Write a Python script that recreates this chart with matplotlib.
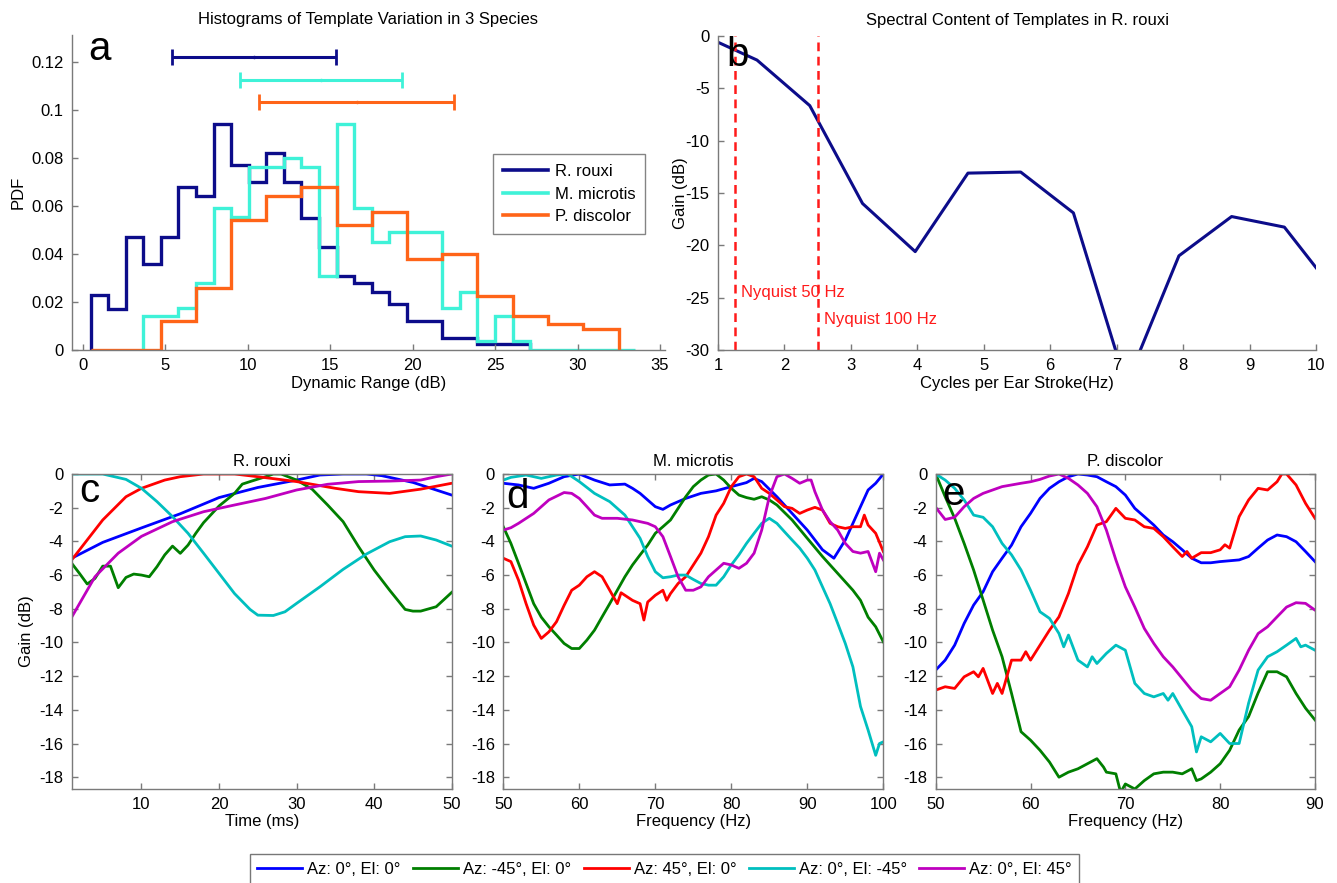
import matplotlib
matplotlib.use("Agg")
import matplotlib.pyplot as plt
from matplotlib.lines import Line2D

plt.rcParams['font.family'] = ['Liberation Sans', 'DejaVu Sans']
plt.rcParams['font.size'] = 12
plt.rcParams['axes.unicode_minus'] = False

# ---------------- Panel a: histograms ----------------
species = ["R. rouxi", "M. microtis", "P. discolor"]
hist_colors = ["#0c0c8a", "#3ff2d8", "#ff6418"]

rouxi_edges = [0.46, 1.53, 2.59, 3.66, 4.73, 5.79, 6.86, 7.92, 8.99, 10.06, 11.12, 12.19,
               13.25, 14.32, 15.39, 16.45, 17.52, 18.58, 19.65, 20.72, 21.78, 22.85,
               23.91, 24.98, 26.05, 27.11]
rouxi_pdf = [0.023, 0.017, 0.047, 0.036, 0.047, 0.068, 0.064, 0.094, 0.077, 0.070, 0.082,
             0.070, 0.055, 0.043, 0.031, 0.028, 0.024, 0.019, 0.012, 0.012, 0.005, 0.005,
             0.0025, 0.0025, 0.0025]

microtis_edges = [3.66, 4.73, 5.79, 6.86, 7.92, 8.99, 10.06, 11.12, 12.19, 13.25, 14.32,
                  15.39, 16.45, 17.52, 18.58, 19.65, 20.72, 21.78, 22.85, 23.91, 24.98,
                  26.05, 27.11, 28.18, 29.24, 30.31, 31.38, 32.44, 33.51]
microtis_pdf = [0.014, 0.014, 0.0174, 0.028, 0.059, 0.0556, 0.0764, 0.0764, 0.080, 0.0764,
                0.031, 0.094, 0.059, 0.045, 0.049, 0.049, 0.049, 0.0174, 0.0243, 0.0037,
                0.014, 0.0037, 0.0, 0.0, 0.0, 0.0, 0.0, 0.0]

discolor_edges = [0.46, 2.59, 4.73, 6.86, 8.99, 11.12, 13.25, 15.39, 17.52, 19.65, 21.78,
                  23.91, 26.05, 28.18, 30.31, 32.5]
discolor_pdf = [0.0, 0.0, 0.012, 0.026, 0.054, 0.064, 0.068, 0.052, 0.0576, 0.038, 0.040,
                0.0226, 0.0143, 0.0108, 0.0087]

err_mean = [10.37, 14.43, 16.6]
err_sd = [4.97, 4.92, 5.9]
err_y = [0.122, 0.1125, 0.1034]

# ---------------- Panel b: spectral content ----------------
spec_x = [0.794, 1.587, 2.381, 3.175, 3.968, 4.762, 5.556, 6.349, 7.143, 7.937, 8.730,
          9.524, 10.317]
spec_gain = [0.0, -2.3, -6.65, -16.0, -20.6, -13.1, -13.0, -16.9, -33.3, -21.0, -17.25,
             -18.26, -24.7]
nyquist_x = [1.25, 2.5]
nyquist_labels = ["Nyquist 50 Hz", "Nyquist 100 Hz"]
nyquist_label_y = [-24.5, -27.1]

# ---------------- Panels c-e ----------------
dir_labels = ["Az: 0°, El: 0°", "Az: -45°, El: 0°", "Az: 45°, El: 0°",
              "Az: 0°, El: -45°", "Az: 0°, El: 45°"]
dir_colors = ["#0000ff", "#007f00", "#ff0000", "#00bfbf", "#bf00bf"]

# panel c (R. rouxi, time)
c_blue_x = [1, 5, 10, 15, 20, 25, 30, 33, 36, 39, 41, 45, 50]
c_blue_y = [-5.0, -4.06, -3.2, -2.36, -1.4, -0.8, -0.36, -0.06, 0.0, 0.0, -0.1, -0.5, -1.25]
c_green_x = [1, 2, 3, 4, 5, 6, 7, 8, 9, 10, 11, 12, 13, 14, 15, 16, 17, 18, 20, 22, 23, 24,
             26, 27, 28, 30, 32, 34, 36, 38, 40, 42, 44, 45, 46, 48, 50]
c_green_y = [-5.3, -5.9, -6.53, -6.2, -5.47, -5.47, -6.75, -6.14, -5.94, -6.0, -6.1, -5.5,
             -4.8, -4.28, -4.71, -4.22, -3.52, -2.89, -1.9, -1.15, -0.6, -0.45, -0.16, 0.0,
             0.0, -0.36, -0.9, -1.84, -2.83, -4.32, -5.7, -6.9, -8.04, -8.14, -8.14, -7.88,
             -7.03]
c_red_x = [1, 5, 8, 10, 13, 15, 18, 22, 25, 30, 35, 38, 42, 46, 50]
c_red_y = [-5.1, -2.73, -1.35, -0.85, -0.36, -0.16, 0.0, 0.0, -0.16, -0.45, -0.85, -1.05,
           -1.15, -0.9, -0.55]
c_cyan_x = [1, 5, 8, 10, 12, 14, 16, 18, 20, 22, 24, 25, 27, 28.5, 30, 33, 36, 39, 42, 44,
            46, 48, 50]
c_cyan_y = [0.0, 0.0, -0.32, -0.85, -1.64, -2.53, -3.52, -4.7, -5.9, -7.1, -8.04, -8.38,
            -8.4, -8.18, -7.68, -6.7, -5.66, -4.75, -4.02, -3.72, -3.68, -3.92, -4.28]
c_mag_x = [1, 4, 7, 10, 14, 18, 22, 26, 30, 34, 38, 42, 46, 48, 50]
c_mag_y = [-8.5, -6.1, -4.7, -3.7, -2.83, -2.24, -1.84, -1.45, -0.95, -0.61, -0.45, -0.42,
           -0.36, -0.16, 0.0]

# panel d (M. microtis, frequency)
d_blue_x = [50, 52, 54, 56, 58, 60, 62, 64, 66, 67, 68, 70, 71, 72, 74, 76, 78, 80, 82, 83,
            84, 86, 88, 90, 92, 93.5, 95, 97, 98, 99, 100]
d_blue_y = [-0.55, -0.65, -0.85, -0.55, -0.16, 0.0, -0.36, -0.65, -0.6, -0.85, -1.15, -1.94,
            -2.1, -1.84, -1.45, -1.15, -1.0, -0.75, -0.51, -0.26, -0.45, -1.35, -2.34, -3.33,
            -4.5, -5.0, -3.92, -1.94, -0.95, -0.55, 0.0]
d_green_x = [50, 51, 52, 53, 54, 55, 56, 57, 58, 59, 60, 61, 62, 63, 64, 65, 66, 67, 68, 69,
             70, 71, 72, 73, 74, 75, 76, 77, 78, 79, 80, 81, 82, 83, 84, 85, 86, 88, 90, 92,
             94, 96, 97, 98, 99, 100]
d_green_y = [-3.13, -4.12, -5.3, -6.5, -7.7, -8.5, -9.07, -9.56, -10.06, -10.36, -10.36,
             -9.86, -9.27, -8.48, -7.7, -6.9, -6.1, -5.4, -4.8, -4.22, -3.52, -3.13, -2.73,
             -2.04, -1.35, -0.75, -0.36, -0.06, 0.0, -0.36, -0.85, -1.25, -1.4, -1.5, -1.35,
             -1.54, -1.84, -2.73, -3.82, -4.9, -5.9, -6.9, -7.5, -8.5, -9.07, -9.96]
d_red_x = [50, 51, 52, 53, 54, 55, 56, 57, 58, 59, 60, 61, 62, 63, 64, 65, 65.5, 66, 67, 68,
           68.5, 69, 70, 71, 71.5, 72, 73, 74, 75, 76, 77, 78, 79, 80, 81, 82, 83, 84, 85,
           86, 87, 88, 89, 90, 91, 92, 93, 94, 95, 96, 97, 97.5, 98, 99, 100]
d_red_y = [-5.0, -5.2, -6.3, -7.7, -8.97, -9.76, -9.37, -8.77, -7.8, -6.9, -6.6, -6.1, -5.8,
           -6.1, -6.9, -7.7, -7.05, -7.2, -7.5, -7.7, -8.67, -7.6, -7.2, -6.9, -7.5, -7.1,
           -6.5, -6.1, -5.4, -4.7, -3.72, -2.44, -1.74, -0.75, -0.16, 0.0, -0.16, -0.85,
           -1.15, -1.54, -1.94, -2.04, -2.34, -2.14, -1.98, -2.14, -2.93, -3.13, -3.23,
           -3.13, -3.13, -2.44, -3.03, -3.52, -4.6]
d_cyan_x = [50, 51, 53, 55, 57, 58.5, 60, 62, 64, 66, 68, 69, 70, 71, 72, 73, 74, 75, 76, 77,
            78, 79, 80, 81, 82, 83, 84, 85, 86, 87, 88, 89, 90, 91, 92, 93, 94, 95, 96, 97,
            98, 99, 99.5, 100]
d_cyan_y = [-0.36, -0.2, -0.06, -0.26, -0.06, 0.0, -0.45, -1.15, -1.64, -2.44, -3.82, -4.9,
            -5.8, -6.16, -6.1, -6.0, -6.0, -6.26, -6.5, -6.6, -6.6, -6.1, -5.4, -4.8, -4.12,
            -3.52, -2.93, -2.63, -2.93, -3.43, -3.92, -4.4, -5.0, -5.7, -6.7, -7.7, -8.87,
            -10.06, -11.45, -13.8, -15.2, -16.7, -16.0, -15.9]
d_mag_x = [50, 51, 52, 54, 56, 58, 59, 60, 61, 62, 63, 65, 67, 69, 70, 71, 72, 73, 74, 75,
           76, 77, 78, 79, 80, 81, 82, 83, 84, 85, 86, 87, 88, 89, 90, 90.5, 91, 92, 93, 94,
           95, 96, 97, 98, 99, 99.5, 100]
d_mag_y = [-3.33, -3.19, -2.93, -2.34, -1.54, -1.1, -1.15, -1.45, -1.94, -2.44, -2.63, -2.63,
           -2.73, -2.93, -3.13, -3.72, -4.9, -6.1, -6.9, -6.9, -6.7, -6.1, -5.7, -5.3, -5.4,
           -5.6, -5.3, -4.7, -3.33, -1.35, -0.16, 0.0, -0.26, -0.55, -0.36, -0.36, -1.05,
           -2.14, -2.83, -3.33, -4.12, -4.6, -4.7, -4.6, -5.8, -4.7, -5.1]

# panel e (P. discolor, frequency)
e_x = [50, 51, 52, 53, 54, 55, 56, 57, 58, 59, 60, 61, 62, 63, 64, 65, 66, 67, 68, 69, 70,
       71, 72, 73, 74, 75, 76, 77, 78, 79, 80, 81, 82, 83, 84, 85, 86, 87, 88, 89, 90]
e_blue_y = [-11.64, -11.05, -10.16, -8.87, -7.78, -6.99, -5.8, -5.0, -4.22, -3.13, -2.34,
            -1.45, -0.85, -0.46, -0.16, 0.0, -0.06, -0.16, -0.46, -0.75, -1.25, -2.04, -2.53,
            -3.03, -3.62, -4.02, -4.5, -5.0, -5.27, -5.27, -5.2, -5.15, -5.1, -4.9, -4.4,
            -3.92, -3.62, -3.72, -4.02, -4.6, -5.2]
e_mag_y = [-1.98, -2.7, -2.57, -1.94, -1.45, -1.15, -0.95, -0.75, -0.65, -0.55, -0.46, -0.32,
           -0.12, 0.0, -0.26, -0.65, -1.15, -1.94, -3.33, -5.1, -6.7, -7.9, -9.17, -10.06,
           -10.85, -11.45, -12.14, -12.83, -13.33, -13.43, -13.03, -12.63, -11.64, -10.46,
           -9.47, -9.07, -8.48, -7.9, -7.64, -7.68, -8.08]
e_green_x = [50, 51, 52, 53, 54, 55, 56, 57, 58, 59, 60, 61, 62, 63, 64, 65, 66, 67, 67.7,
             68, 69, 69.5, 70, 71, 72, 73, 74, 75, 76, 77, 77.5, 78, 79, 80, 81, 82, 83, 84,
             85, 86, 87, 88, 89, 90]
e_green_y = [0.0, -1.35, -2.63, -4.12, -5.7, -7.48, -9.27, -10.85, -13.03, -15.3, -15.8,
             -16.4, -17.1, -18.0, -17.7, -17.5, -17.2, -16.9, -17.4, -17.7, -17.8, -18.9,
             -18.4, -18.7, -18.2, -17.8, -17.7, -17.7, -17.8, -17.5, -18.2, -18.1, -17.7,
             -17.2, -16.4, -15.2, -14.4, -13.0, -11.74, -11.74, -12.04, -13.03, -13.9, -14.6]
e_red_x = [50, 51, 52, 53, 54, 54.5, 55, 56, 56.5, 57, 58, 59, 59.5, 60, 61, 62, 63, 64, 65,
           66, 67, 68, 69, 70, 71, 72, 73, 74, 75, 76, 76.5, 77, 78, 79, 80, 80.5, 81, 82,
           83, 84, 85, 86, 86.5, 87, 88, 89, 90]
e_red_y = [-12.83, -12.63, -12.73, -12.04, -11.74, -12.04, -11.54, -13.03, -12.43, -13.03,
           -11.05, -11.05, -10.55, -11.05, -10.16, -9.27, -8.48, -7.09, -5.4, -4.32, -3.03,
           -2.83, -2.04, -2.63, -2.73, -3.13, -3.23, -3.72, -4.32, -4.9, -4.6, -5.0, -4.67,
           -4.67, -4.5, -4.2, -4.4, -2.53, -1.54, -0.85, -0.95, -0.46, 0.0, 0.0, -0.65,
           -1.74, -2.63]
e_cyan_x = [50, 51, 52, 53, 54, 55, 56, 57, 58, 59, 60, 61, 62, 63, 63.5, 64, 65, 66, 66.5,
            67, 68, 69, 70, 71, 72, 73, 74, 74.5, 75, 76, 77, 77.5, 78, 79, 80, 81, 82, 83,
            84, 85, 86, 87, 88, 88.5, 89, 90]
e_cyan_y = [0.0, -0.36, -0.85, -1.54, -2.44, -2.57, -3.13, -4.12, -4.8, -5.7, -6.9, -8.18,
            -8.57, -9.47, -10.26, -9.56, -11.05, -11.45, -10.85, -11.25, -10.65, -10.16,
            -10.46, -12.43, -13.03, -13.23, -13.03, -13.43, -13.03, -14.02, -15.0, -16.5,
            -15.6, -15.9, -15.4, -16.0, -16.0, -13.6, -11.64, -10.85, -10.55, -10.16, -9.76,
            -10.26, -10.16, -10.46]

# ======================================================================
W, H = 1337, 883
fig = plt.figure(figsize=(W / 100, H / 100), dpi=100)


def px_axes(left, top, right, bottom):
    return fig.add_axes([left / W, 1 - bottom / H, (right - left) / W, (bottom - top) / H])


spine_col = "#7a7a7a"


def style_axes(ax, box):
    for s in ax.spines.values():
        s.set_color(spine_col)
        s.set_linewidth(1.0)
    if not box:
        ax.spines['top'].set_visible(False)
        ax.spines['right'].set_visible(False)
        ax.tick_params(direction='in', length=4, width=1, color=spine_col, labelsize=12,
                       pad=6)
    else:
        ax.tick_params(direction='in', length=4, width=1, color=spine_col, labelsize=12,
                       pad=6, top=True, right=True)


def panel_label(ax, s, dx, dy):
    ax.annotate(s, xy=(0, 1), xycoords='axes fraction', xytext=(dx, dy),
                textcoords='offset pixels', fontsize=29, va='baseline', ha='left')


# ---- a ----
axA = px_axes(72, 35, 665, 350)
style_axes(axA, False)
all_edges = [rouxi_edges, microtis_edges, discolor_edges]
all_pdf = [rouxi_pdf, microtis_pdf, discolor_pdf]
handles = []
for name, col, ed, pdf in zip(species, hist_colors, all_edges, all_pdf):
    axA.stairs(pdf, ed, baseline=0, color=col, linewidth=2.4)
    handles.append(Line2D([], [], color=col, linewidth=2.6, label=name))
for col, m, sd, y in zip(hist_colors, err_mean, err_sd, err_y):
    axA.errorbar([m], [y], xerr=[sd], color=col, linewidth=2.2, capsize=5.5, capthick=2.0,
                 marker='.', markersize=3)
axA.set_xlim(-0.67, 35.3)
axA.set_ylim(0, 0.1313)
axA.set_xticks([0, 5, 10, 15, 20, 25, 30, 35])
axA.set_yticks([0, 0.02, 0.04, 0.06, 0.08, 0.1, 0.12])
axA.set_yticklabels(["0", "0.02", "0.04", "0.06", "0.08", "0.1", "0.12"])
axA.set_xlabel("Dynamic Range (dB)", labelpad=2)
axA.set_ylabel("PDF", labelpad=4)
axA.set_title("Histograms of Template Variation in 3 Species", fontsize=12, pad=8)
leg = axA.legend(handles=handles, loc='upper left', bbox_to_anchor=(0.71, 0.622),
                 borderaxespad=0, fancybox=False, edgecolor='#666666', fontsize=12,
                 handlelength=2.7, handletextpad=0.4, labelspacing=0.45, borderpad=0.6)
leg.get_frame().set_linewidth(1.0)
panel_label(axA, "a", 16, -25)

# ---- b ----
axB = px_axes(718, 36, 1316, 350)
style_axes(axB, False)
axB.plot(spec_x, spec_gain, color=hist_colors[0], linewidth=2.2, clip_on=True)
for nx, lab, ly in zip(nyquist_x, nyquist_labels, nyquist_label_y):
    axB.axvline(nx, color='#ff1a1a', linestyle=(0, (3.5, 2.2)), linewidth=1.8)
    axB.text(nx + 0.09, ly, lab, color='#ff1a1a', fontsize=12, va='center', ha='left')
axB.set_xlim(1, 10)
axB.set_ylim(-30, 0)
axB.set_xticks(range(1, 11))
axB.set_yticks([0, -5, -10, -15, -20, -25, -30])
axB.set_xlabel("Cycles per Ear Stroke(Hz)", labelpad=2)
axB.set_ylabel("Gain (dB)", labelpad=-2)
axB.set_title("Spectral Content of Templates in R. rouxi", fontsize=12, pad=8)
panel_label(axB, "b", 8, -30)

# ---- c, d, e ----
axC = px_axes(71.7, 474, 451.7, 789)
axD = px_axes(503.3, 474, 883.3, 789)
axE = px_axes(935.7, 474, 1315, 789)

c_series = [(c_blue_x, c_blue_y), (c_green_x, c_green_y), (c_red_x, c_red_y),
            (c_cyan_x, c_cyan_y), (c_mag_x, c_mag_y)]
d_series = [(d_blue_x, d_blue_y), (d_green_x, d_green_y), (d_red_x, d_red_y),
            (d_cyan_x, d_cyan_y), (d_mag_x, d_mag_y)]
e_series = [(e_x, e_blue_y), (e_green_x, e_green_y), (e_red_x, e_red_y),
            (e_cyan_x, e_cyan_y), (e_x, e_mag_y)]

panels = [
    (axC, c_series, "R. rouxi", "Time (ms)", (1, 50), [10, 20, 30, 40, 50], "c", 8, -28),
    (axD, d_series, "M. microtis", "Frequency (Hz)", (50, 100), [50, 60, 70, 80, 90, 100],
     "d", 3, -34),
    (axE, e_series, "P. discolor", "Frequency (Hz)", (50, 90), [50, 60, 70, 80, 90], "e", 7,
     -31),
]
for ax, series, title, xlabel, xlim, xticks, lab, dx, dy in panels:
    style_axes(ax, True)
    for (xs, ys), col in zip(series, dir_colors):
        ax.plot(xs, ys, color=col, linewidth=2.0)
    ax.set_xlim(*xlim)
    ax.set_ylim(-18.7, 0)
    ax.set_xticks(xticks)
    ax.set_yticks([0, -2, -4, -6, -8, -10, -12, -14, -16, -18])
    ax.set_title(title, fontsize=12, pad=6)
    ax.set_xlabel(xlabel, labelpad=1)
    panel_label(ax, lab, dx, dy)
axC.set_ylabel("Gain (dB)", labelpad=4)

dir_handles = [Line2D([], [], color=c, linewidth=2.0, label=l)
               for c, l in zip(dir_colors, dir_labels)]
fl = fig.legend(handles=dir_handles, loc='upper center', ncol=5,
                bbox_to_anchor=(664.5 / W, 1 - 846 / H), fancybox=False,
                edgecolor='#555555', fontsize=12, handlelength=2.7, handletextpad=0.3,
                columnspacing=0.75, borderpad=0.45)
fl.get_frame().set_linewidth(1.0)

fig.savefig("out.png", dpi=100)
